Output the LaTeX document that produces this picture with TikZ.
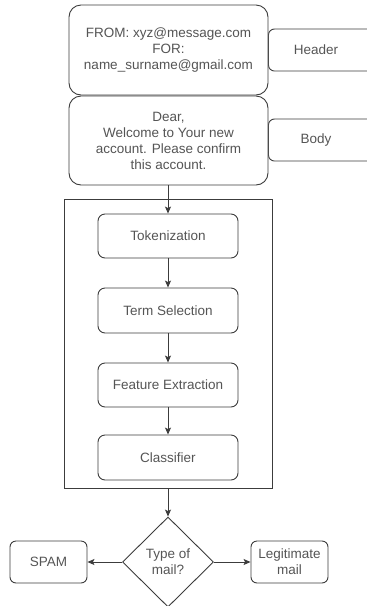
\documentclass[tikz,border=0pt]{standalone}
\usepackage{fontspec}
\setmainfont{Liberation Sans}
\usepackage{xcolor}
\definecolor{linegrey}{RGB}{60, 60, 60}
\definecolor{textgrey}{RGB}{85, 85, 85}
\usepackage{tikz}
\usetikzlibrary{arrows.meta, positioning, shapes.geometric}

\tikzset{
    mailbox/.style={draw=linegrey, rounded corners=12pt, minimum width=199pt, align=center},
    tagbox/.style={draw=linegrey, rounded corners=6pt, minimum width=112pt, minimum height=42pt, anchor=west},
    stepbox/.style={draw=linegrey, rounded corners=7pt, minimum width=140pt, minimum height=44pt, align=center},
    endbox/.style={draw=linegrey, rounded corners=6pt, minimum width=77pt, minimum height=42pt, align=center},
    txt/.style={text=textgrey, font=\fontsize{13.5}{16}\selectfont}
}

\begin{document}
\begin{tikzpicture}[x=1pt, y=-1pt, >={Stealth[length=7pt, width=6pt, inset=1.5pt]}, line width=0.9pt, every node/.style={txt}]
    \useasboundingbox (0,0) rectangle (367,606);
    \clip (0,0) rectangle (367,606);

    % mail parts
    \node[tagbox] (hdrtag) at (268,50) {};
    \node at (316,50) {Header};
    \node[tagbox] (bdytag) at (268,140) {};
    \node at (316,140) {Body};
    \node[mailbox, fill=white, minimum height=90pt] (header) at (168.5,50)
        {FROM: xyz@message.com\\FOR:\\name\_surname@gmail.com};
    \node[mailbox, fill=white, minimum height=89pt] (body) at (168.5,140.5)
        {Dear,\\Welcome to Your new\\account. Please confirm\\this account.};

    % processing
    \node[draw=linegrey, minimum width=208pt, minimum height=289pt] (frame) at (168,343.5) {};
    \node[stepbox] (token) at (168,236) {Tokenization};
    \node[stepbox, minimum height=45pt] (term) at (168,310.5) {Term Selection};
    \node[stepbox] (feature) at (168,385) {Feature Extraction};
    \node[stepbox, minimum height=45pt] (classifier) at (168,457.5) {Classifier};

    % decision
    \node[draw=linegrey, diamond, aspect=1, minimum width=91pt, minimum height=90pt, inner sep=0pt, align=center] (decision) at (168,562)
        {Type of\\mail?};
    \node[endbox] (spam) at (48.5,562) {SPAM};
    \node[endbox] (legit) at (289.5,562) {Legitimate\\mail};

    \draw[->, linegrey] (body.south -| token.north) -- (token.north);
    \draw[->, linegrey] (token) -- (term);
    \draw[->, linegrey] (term) -- (feature);
    \draw[->, linegrey] (feature) -- (classifier);
    \draw[->, linegrey] (frame.south) -- (decision.north);
    \draw[->, linegrey] (decision.west) -- (spam.east);
    \draw[->, linegrey] (decision.east) -- (legit.west);
\end{tikzpicture}
\end{document}
